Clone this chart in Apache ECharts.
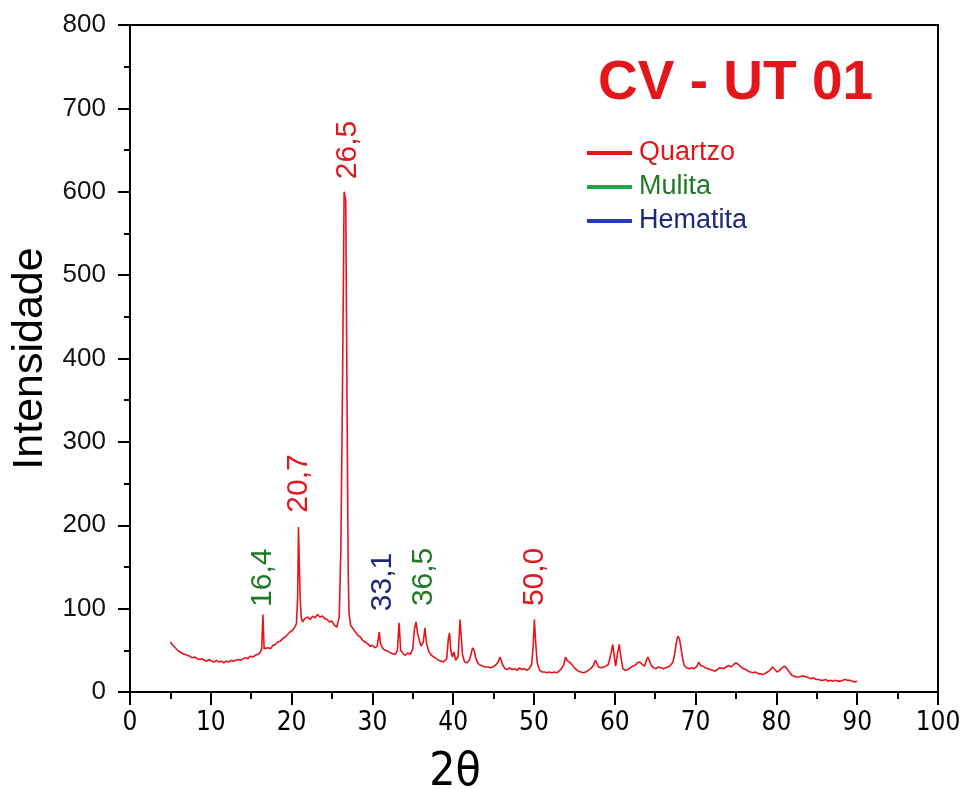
<!DOCTYPE html>
<html>
<head>
<meta charset="utf-8">
<script src="https://cdn.jsdelivr.net/npm/echarts@6/dist/echarts.min.js"></script>
<style>html,body{margin:0;padding:0;background:#fff;}#c{width:964px;height:789px;}</style>
</head>
<body>
<div id="c"></div>
<script>
// ---- Data ----
const twoTheta = [
5.0,5.3,5.6,5.9,6.2,6.5,6.8,7.1,7.4,7.7,8.0,8.3,8.6,8.9,9.2,9.5,9.8,10.1,10.4,10.7,
11.0,11.3,11.6,11.9,12.2,12.5,12.8,13.1,13.4,13.7,14.0,14.3,14.6,14.9,15.2,15.5,15.8,16.1,16.3,16.45,
16.6,16.8,17.1,17.4,17.7,18.0,18.3,18.6,18.9,19.2,19.5,19.8,20.1,20.4,20.6,20.75,20.85,20.95,21.05,21.2,
21.4,21.6,21.8,22.0,22.3,22.6,22.9,23.2,23.5,23.8,24.1,24.4,24.7,25.0,25.3,25.6,25.9,26.1,26.3,26.5,
26.7,26.85,27.0,27.1,27.3,27.6,27.9,28.2,28.5,28.8,29.1,29.4,29.7,30.0,30.3,30.6,30.85,31.0,31.3,31.6,
31.9,32.2,32.5,32.8,33.1,33.3,33.5,33.8,34.1,34.4,34.7,35.0,35.2,35.4,35.6,35.8,36.0,36.3,36.5,36.7,
37.0,37.3,37.6,37.9,38.2,38.5,38.8,39.2,39.4,39.55,39.7,39.9,40.1,40.3,40.6,40.85,41.0,41.15,41.4,41.7,
42.0,42.2,42.4,42.6,42.8,43.1,43.4,43.7,44.0,44.3,44.6,44.9,45.2,45.5,45.8,46.1,46.4,46.7,47.0,47.3,
47.6,47.9,48.2,48.5,48.8,49.1,49.4,49.7,49.9,50.05,50.2,50.4,50.7,51.0,51.3,51.6,51.9,52.2,52.5,52.8,
53.1,53.4,53.7,53.9,54.1,54.3,54.6,54.9,55.2,55.5,55.8,56.1,56.4,56.7,57.0,57.3,57.6,57.8,58.0,58.3,
58.6,58.9,59.2,59.5,59.75,59.9,60.1,60.35,60.55,60.75,61.0,61.3,61.6,61.9,62.2,62.5,62.8,63.1,63.4,63.7,
63.9,64.1,64.3,64.5,64.8,65.1,65.4,65.7,66.0,66.3,66.6,66.9,67.2,67.4,67.6,67.8,68.0,68.2,68.4,68.6,
68.9,69.2,69.5,69.8,70.1,70.4,70.6,70.9,71.2,71.5,71.8,72.1,72.4,72.7,73.0,73.2,73.5,73.8,74.1,74.4,
74.7,75.0,75.3,75.6,75.9,76.2,76.5,76.8,77.1,77.4,77.7,78.0,78.3,78.6,78.9,79.2,79.5,79.8,80.1,80.4,
80.7,81.0,81.3,81.6,81.9,82.2,82.5,82.8,83.1,83.4,83.7,84.0,84.3,84.6,84.9,85.2,85.5,85.8,86.1,86.4,
86.7,87.0,87.3,87.6,87.9,88.2,88.5,88.8,89.1,89.4,89.7,90.0
];
const intensity = [
60,56,53,50,48,46,45,44,43,41,42,40,39,40,38,37,39,37,36,38,
36,37,35,37,36,38,37,38,39,38,40,41,40,43,42,44,45,47,52,93,
52,50,53,52,56,57,60,61,64,66,69,72,74,78,82,114,198,198,114,88,
84,88,86,90,87,91,89,93,90,91,88,87,84,85,80,78,90,174,365,600,
590,365,150,95,80,76,72,68,66,62,60,58,55,56,53,55,72,58,52,50,
49,47,46,45,50,83,50,46,44,47,45,52,75,84,70,68,55,60,77,58,
48,44,42,40,38,37,36,40,64,71,50,42,48,38,42,87,87,45,36,35,
38,45,53,50,40,34,32,31,30,30,29,30,32,35,42,33,28,27,29,27,
28,26,29,27,28,26,28,33,55,87,60,35,26,24,24,23,24,23,24,23,
25,28,33,42,38,36,34,30,27,25,24,23,24,26,28,31,38,36,30,29,
30,31,33,45,57,45,31,47,57,42,28,26,27,29,31,32,35,36,33,31,
38,42,40,32,29,28,30,29,28,29,30,32,36,45,58,67,64,52,40,32,
29,28,29,28,30,36,32,31,29,28,27,26,25,27,29,30,28,30,32,30,
33,35,33,30,28,27,25,24,23,24,22,22,21,22,24,26,30,27,24,26,
29,31,28,24,20,19,18,18,19,19,18,17,16,17,15,15,14,14,15,13,
14,13,14,13,13,14,15,14,14,13,12,13
];
// Peak annotations
const peakLabels = ['16,4', '20,7', '26,5', '33,1', '36,5', '50,0'];
const peakLabelX = [16.4, 20.9, 26.9, 31.3, 36.3, 50.1];
const peakLabelY = [102, 215, 615, 97, 103, 103];
const peakPhase  = ['Mulita', 'Quartzo', 'Quartzo', 'Hematita', 'Mulita', 'Quartzo'];
// Legend phases
const phases = ['Quartzo', 'Mulita', 'Hematita'];
const phaseTextColor = { Quartzo: '#e3161c', Mulita: '#1f7a25', Hematita: '#1d2878' };
const phaseLineColor = { Quartzo: '#e8141c', Mulita: '#1ea84a', Hematita: '#2a3bb0' };
// Axis ticks
const xTicks = [0,10,20,30,40,50,60,70,80,90,100];
const yTicks = [0,100,200,300,400,500,600,700,800];

const narrow = '"Liberation Sans Narrow", "DejaVu Sans Condensed", "Liberation Sans", sans-serif';
const chart = echarts.init(document.getElementById('c'));
const pattern = twoTheta.map((x, i) => [x, intensity[i]]);
const labelPts = peakLabels.map((t, i) => ({
  value: [peakLabelX[i], peakLabelY[i]],
  label: { formatter: t, color: phaseTextColor[peakPhase[i]] }
}));

const option = {
  backgroundColor: '#ffffff',
  animation: false,
  grid: { left: 130, right: 26, top: 25, bottom: 97, containLabel: false, outerBoundsMode: 'none',
          show: true, borderColor: '#000', borderWidth: 2, backgroundColor: 'transparent' },
  xAxis: {
    type: 'value', min: xTicks[0], max: xTicks[xTicks.length-1], interval: 10,
    name: '2θ', nameLocation: 'middle', nameGap: 58,
    nameTextStyle: { fontFamily: narrow, fontSize: 46, color: '#000', padding: [0, 158, 0, 0] },
    axisLine: { show: true, onZero: false, lineStyle: { color: '#000', width: 2 } },
    axisTick: { show: true, inside: false, length: 13, lineStyle: { color: '#000', width: 2 } },
    minorTick: { show: true, splitNumber: 2, length: 7, lineStyle: { color: '#000', width: 2 } },
    splitLine: { show: false },
    axisLabel: { fontFamily: narrow, fontSize: 26, color: '#000', margin: 18 }
  },
  yAxis: {
    type: 'value', min: yTicks[0], max: yTicks[yTicks.length-1], interval: 100,
    name: 'Intensidade', nameLocation: 'middle', nameGap: 74,
    nameTextStyle: { fontFamily: 'Liberation Sans', fontSize: 43, color: '#000' },
    axisLine: { show: true, lineStyle: { color: '#000', width: 2 } },
    axisTick: { show: true, inside: false, length: 12, lineStyle: { color: '#000', width: 2 } },
    minorTick: { show: true, splitNumber: 2, length: 6, lineStyle: { color: '#000', width: 2 } },
    splitLine: { show: false },
    axisLabel: { fontFamily: 'Liberation Sans', fontSize: 26, color: '#111', margin: 24 }
  },
  legend: {
    orient: 'vertical', left: 582, top: 133, icon: 'rect', itemWidth: 45, itemHeight: 4, itemGap: 4,
    textStyle: { fontFamily: 'Liberation Sans', fontSize: 27, lineHeight: 30, padding: [0,0,0,2] },
    data: phases.map(p => ({ name: p, textStyle: { color: phaseTextColor[p] } }))
  },
  graphic: [{
    type: 'text', left: 598, top: 56,
    style: { text: 'CV - UT 01', fill: '#e3161c', font: 'bold 55px "Liberation Sans"' }
  }],
  series: [
    {
      type: 'line', name: 'CV - UT 01 pattern', data: pattern, showSymbol: false, symbol: 'none',
      lineStyle: { color: '#e8141c', width: 1.6 }, z: 3
    },
    {
      type: 'scatter', data: labelPts, symbolSize: 0, z: 4, itemStyle: { opacity: 1 },
      label: { show: true, position: 'top', distance: 0, rotate: 90, align: 'left', verticalAlign: 'middle',
               fontFamily: 'Liberation Sans', fontSize: 30, opacity: 1 }
    }
  ].concat(phases.map(p => ({ type: 'line', name: p, data: [], color: phaseLineColor[p] })))
};
chart.setOption(option);
</script>
</body>
</html>
